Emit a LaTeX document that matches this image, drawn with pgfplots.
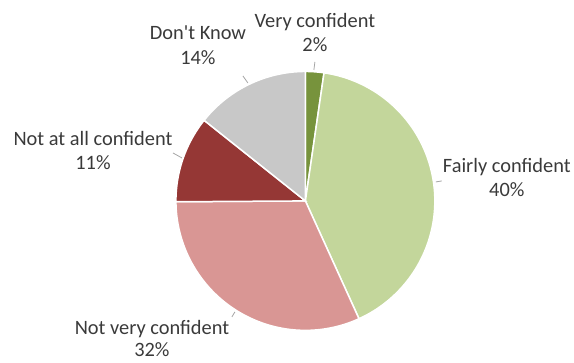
\documentclass[border=0pt]{standalone}
\usepackage{pgfplots}
\pgfplotsset{compat=1.18}
\usepackage{fontspec}
\setmainfont{Carlito}

\definecolor{cvc}{HTML}{77933C}
\definecolor{cfc}{HTML}{C3D69B}
\definecolor{cnv}{HTML}{D99694}
\definecolor{cna}{HTML}{953735}
\definecolor{cdk}{HTML}{C8C8C8}
\definecolor{ctxt}{HTML}{3A3A3A}
\definecolor{cldr}{HTML}{A6A6A6}

% shares (percent), clockwise from 12 o'clock
\def\vc{2.3}
\def\fc{40.9}
\def\nv{31.7}
\def\na{10.8}
\def\dk{14.3}

\pgfmathsetmacro\aA{90}
\pgfmathsetmacro\aB{\aA-3.6*\vc}
\pgfmathsetmacro\aC{\aB-3.6*\fc}
\pgfmathsetmacro\aD{\aC-3.6*\nv}
\pgfmathsetmacro\aE{\aD-3.6*\na}
\pgfmathsetmacro\aF{\aE-3.6*\dk}

\def\cx{305.5}
\def\cy{162}
\def\rr{129.5}

\tikzset{lbl/.style={anchor=base, text=ctxt, font=\fontsize{20.4}{24}\selectfont},
  ldr/.style={draw=cldr, line width=0.8pt}}

\begin{document}
\begin{tikzpicture}
\begin{axis}[
  scale only axis, width=574pt, height=363pt,
  xmin=0, xmax=574, ymin=0, ymax=363,
  hide axis, clip=false,
]
\path (axis cs:0,0) rectangle (axis cs:574,363);
\addplot[fill=cvc, draw=white, line width=1.5pt, domain=\aB:\aA, samples=10, variable=\t]
  ({\cx+\rr*cos(\t)}, {\cy+\rr*sin(\t)}) -- (axis cs:\cx,\cy) -- cycle;
\addplot[fill=cfc, draw=white, line width=1.5pt, domain=\aC:\aB, samples=120, variable=\t]
  ({\cx+\rr*cos(\t)}, {\cy+\rr*sin(\t)}) -- (axis cs:\cx,\cy) -- cycle;
\addplot[fill=cnv, draw=white, line width=1.5pt, domain=\aD:\aC, samples=100, variable=\t]
  ({\cx+\rr*cos(\t)}, {\cy+\rr*sin(\t)}) -- (axis cs:\cx,\cy) -- cycle;
\addplot[fill=cna, draw=white, line width=1.5pt, domain=\aE:\aD, samples=40, variable=\t]
  ({\cx+\rr*cos(\t)}, {\cy+\rr*sin(\t)}) -- (axis cs:\cx,\cy) -- cycle;
\addplot[fill=cdk, draw=white, line width=1.5pt, domain=\aF:\aE, samples=50, variable=\t]
  ({\cx+\rr*cos(\t)}, {\cy+\rr*sin(\t)}) -- (axis cs:\cx,\cy) -- cycle;

% leader lines
\draw[ldr] (axis cs:315,301) -- (axis cs:314,293);
\draw[ldr] (axis cs:243,287) -- (axis cs:248,280);
\draw[ldr] (axis cs:436,181) -- (axis cs:442,182);
\draw[ldr] (axis cs:173,210) -- (axis cs:182,205);
\draw[ldr] (axis cs:232,46) -- (axis cs:235,51);

% labels
\node[lbl] at (axis cs:315,335) {Very confident};
\node[lbl] at (axis cs:315,311) {2\%};
\node[lbl] at (axis cs:198,323) {Don\textquotesingle t Know};
\node[lbl] at (axis cs:198,298) {14\%};
\node[lbl] at (axis cs:507,190) {Fairly confident};
\node[lbl] at (axis cs:507,166) {40\%};
\node[lbl] at (axis cs:93,217) {Not at all confident};
\node[lbl] at (axis cs:93,193) {11\%};
\node[lbl] at (axis cs:152,28) {Not very confident};
\node[lbl] at (axis cs:152,6) {32\%};
\end{axis}
\end{tikzpicture}
\end{document}
